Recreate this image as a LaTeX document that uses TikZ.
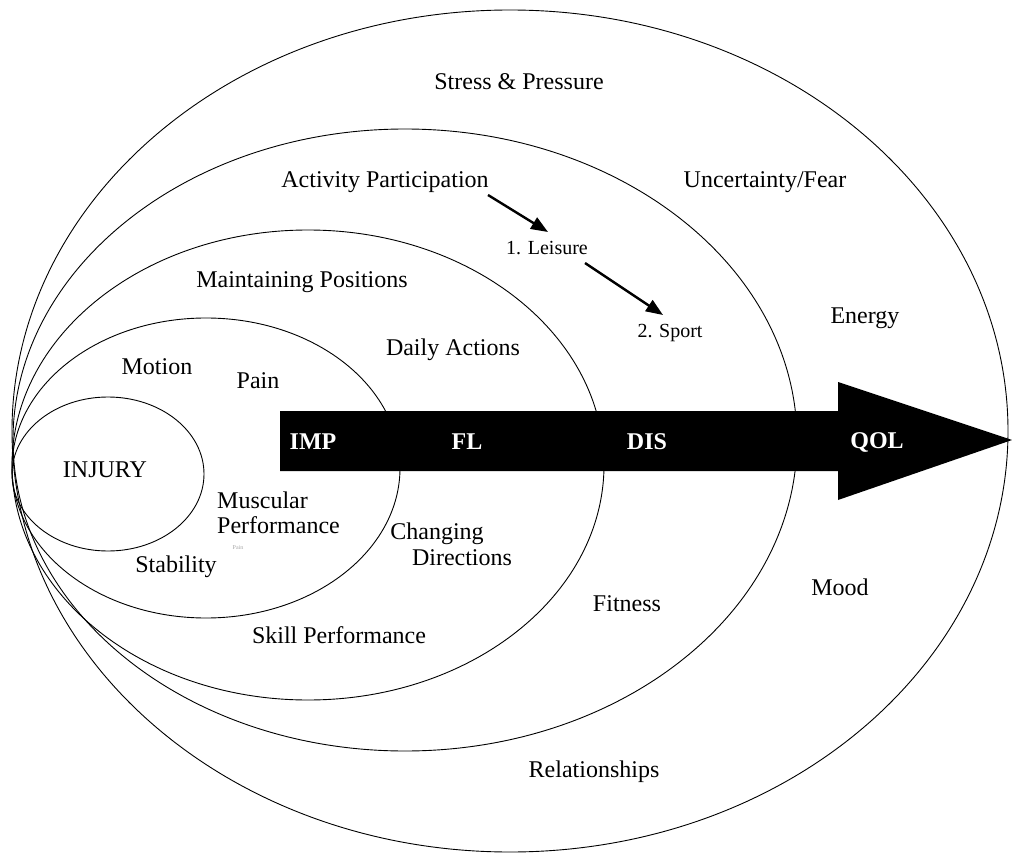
\documentclass[tikz,border=0pt]{standalone}
\usepackage{fontspec}
\setmainfont{Liberation Serif}
\usetikzlibrary{arrows.meta}
\begin{document}
\begin{tikzpicture}[x=1pt,y=-1pt,
  ring/.style={draw=black,line width=0.9pt},
  lbl/.style={font=\fontsize{24}{25}\selectfont,inner sep=0pt,align=center},
  small/.style={font=\fontsize{20}{22}\selectfont,inner sep=0pt},
  inlbl/.style={font=\fontsize{24}{25}\selectfont\bfseries,text=white,inner sep=0pt,anchor=base},
  seq/.style={line width=2.4pt,-{Triangle[length=17pt,width=13pt]}}]
\useasboundingbox (0,0) rectangle (1012,853);
% nested ellipses
\draw[ring] (510,431) ellipse [x radius=498,y radius=421];
\draw[ring] (405,440) ellipse [x radius=392,y radius=311];
\draw[ring] (308,465) ellipse [x radius=296,y radius=235];
\draw[ring] (206,468) ellipse [x radius=194,y radius=150];
\draw[ring] (108,474) ellipse [x radius=96,y radius=77];
% big arrow
\fill[black] (280,411) -- (838,411) -- (838,382) -- (1012,440) -- (838,500) -- (838,471) -- (280,471) -- cycle;
\node[inlbl] (imp) at (313,449) {IMP};
\node[inlbl] (fl) at (467,449) {FL};
\node[inlbl] (dis) at (647,449) {DIS};
\node[inlbl] (qol) at (877,448) {QOL};
% labels
\node[lbl] (stress) at (519,82) {Stress \& Pressure};
\node[lbl] (unc) at (765,182) {Uncertainty/Fear};
\node[lbl] (act) at (385,182) {Activity Participation};
\node[small] (leis) at (547,248) {1. Leisure};
\node[small] (sport) at (670,333) {2. Sport};
\node[lbl] (maint) at (302,282) {Maintaining Positions};
\node[lbl] (energy) at (865,318) {Energy};
\node[lbl] (daily) at (453,350) {Daily Actions};
\node[lbl] (motion) at (157,367) {Motion};
\node[lbl] (pain) at (258,381) {Pain};
\node[lbl] (injury) at (105,470) {INJURY};
\node[lbl,anchor=west,align=left] (musc) at (217,513) {Muscular\\Performance};
\node[font=\fontsize{6}{7}\selectfont,text=black!35,inner sep=0pt] (ghost) at (238,548) {Pain};
\node[lbl] (stab) at (176,567) {Stability};
\node[lbl] (chg) at (437,534) {Changing};
\node[lbl] (dirs) at (462,558) {Directions};
\node[lbl] (skill) at (339,635) {Skill Performance};
\node[lbl] (fit) at (627,604) {Fitness};
\node[lbl] (mood) at (840,587) {Mood};
\node[lbl] (rel) at (594,772) {Relationships};
% sequence arrows
\coordinate (a1s) at (488,195);
\coordinate (a1e) at (548,232);
\coordinate (a2s) at (585,263);
\coordinate (a2e) at (663,315);
\draw[seq] (a1s) -- (a1e);
\draw[seq] (a2s) -- (a2e);
\end{tikzpicture}
\end{document}
